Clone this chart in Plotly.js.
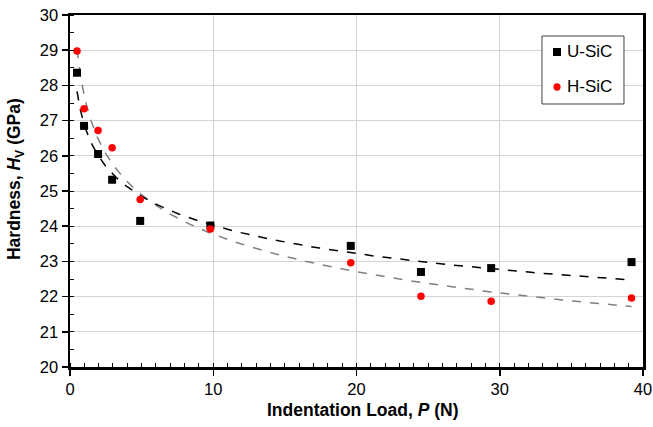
<!DOCTYPE html>
<html>
<head>
<meta charset="utf-8">
<script src="https://cdn.plot.ly/plotly-3.0.1.min.js"></script>
<style>html,body{margin:0;padding:0;background:#fff;}#chart{width:653px;height:427px;}</style>
</head>
<body>
<div id="chart"></div>
<script>
// Indentation load (N)
var loadU = [0.49, 0.98, 1.96, 2.94, 4.9, 9.8, 19.6, 24.5, 29.4, 39.2];
var hardU = [28.36, 26.85, 26.05, 25.32, 24.15, 24.02, 23.44, 22.70, 22.81, 22.98];
var loadH = [0.49, 0.98, 1.96, 2.94, 4.9, 9.8, 19.6, 24.5, 29.4, 39.2];
var hardH = [28.98, 27.34, 26.72, 26.23, 24.76, 23.92, 22.96, 22.01, 21.87, 21.96];
var seriesNames = ["U-SiC", "H-SiC"];
var xTitle = "<b>Indentation Load, <i>P</i> (N)</b>";
var yTitle = "<b>Hardness, <i>H</i><sub>V</sub> (GPa)</b>";

// Power-law trendline (least squares in log-log space), as in spreadsheet trendlines
function powerFit(xs, ys) {
  var n = xs.length, lx = xs.map(Math.log), ly = ys.map(Math.log);
  var mx = lx.reduce(function(a,b){return a+b;},0)/n;
  var my = ly.reduce(function(a,b){return a+b;},0)/n;
  var sxy = 0, sxx = 0;
  for (var i = 0; i < n; i++) { sxy += (lx[i]-mx)*(ly[i]-my); sxx += (lx[i]-mx)*(lx[i]-mx); }
  var b = sxy/sxx, a = Math.exp(my - b*mx);
  var x0 = Math.min.apply(null, xs), x1 = Math.max.apply(null, xs);
  var cx = [], cy = [];
  for (var k = 0; k <= 200; k++) {
    var x = x0 * Math.pow(x1/x0, k/200);
    cx.push(x); cy.push(a*Math.pow(x, b));
  }
  return {x: cx, y: cy};
}
var fitU = powerFit(loadU, hardU);
var fitH = powerFit(loadH, hardH);

var font = "Liberation Sans, Arial, sans-serif";
var traces = [
  {x: fitH.x, y: fitH.y, mode: "lines", line: {color: "#808080", width: 1.5, dash: "dash"}, showlegend: false, hoverinfo: "skip"},
  {x: fitU.x, y: fitU.y, mode: "lines", line: {color: "#000000", width: 1.5, dash: "dash"}, showlegend: false, hoverinfo: "skip"},
  {x: loadU, y: hardU, name: seriesNames[0], mode: "markers", showlegend: false,
   marker: {symbol: "square", size: 8, color: "#000000"}},
  {x: loadH, y: hardH, name: seriesNames[1], mode: "markers", showlegend: false,
   marker: {symbol: "circle", size: 7.5, color: "#ff0000"}}
];

// Legend box drawn in paper coordinates (Excel-style compact legend)
var shapes = [
  {type: "rect", xref: "paper", yref: "paper", x0: 0.8237, x1: 0.9668, y0: 0.7472, y1: 0.9403,
   line: {color: "#404040", width: 1}, fillcolor: "#ffffff", layer: "above"},
  {type: "rect", xref: "paper", yref: "paper", x0: 0.8429, x1: 0.8569, y0: 0.8835, y1: 0.9063,
   line: {width: 0}, fillcolor: "#000000", layer: "above"},
  {type: "circle", xref: "paper", yref: "paper", x0: 0.8437, x1: 0.8562, y0: 0.7850, y1: 0.8060,
   line: {width: 0}, fillcolor: "#ff0000", layer: "above"}
];

var layout = {
  width: 653, height: 427,
  margin: {l: 70, r: 10, t: 15, b: 60},
  paper_bgcolor: "#ffffff", plot_bgcolor: "#ffffff",
  font: {family: font, size: 16.5, color: "#000"},
  showlegend: false,
  xaxis: {
    range: [0, 40], dtick: 10, tick0: 0,
    showgrid: true, gridcolor: "#d4d4d4", gridwidth: 1,
    ticks: "outside", ticklen: 6, tickwidth: 1.5, tickcolor: "#000",
    minor: {dtick: 1, ticks: "inside", ticklen: 4, tickwidth: 1, tickcolor: "#000", showgrid: false},
    showline: true, linecolor: "#000", linewidth: 2.5, mirror: true,
    zeroline: false,
    tickfont: {family: font, size: 16.5, color: "#000"}
  },
  yaxis: {
    range: [20, 30], dtick: 1, tick0: 20,
    showgrid: true, gridcolor: "#d4d4d4", gridwidth: 1,
    ticks: "outside", ticklen: 6, tickwidth: 1.5, tickcolor: "#000",
    minor: {dtick: 0.5, ticks: "inside", ticklen: 4, tickwidth: 1, tickcolor: "#000", showgrid: false},
    showline: true, linecolor: "#000", linewidth: 2.5, mirror: true,
    zeroline: false,
    tickfont: {family: font, size: 16.5, color: "#000"}
  },
  shapes: shapes,
  annotations: [
    {text: xTitle, xref: "paper", yref: "paper", x: 0.512, y: -0.122,
     xanchor: "center", yanchor: "middle", showarrow: false,
     font: {family: font, size: 17.5, color: "#000"}},
    {text: yTitle, xref: "paper", yref: "paper", x: -0.096, y: 0.534,
     xanchor: "center", yanchor: "middle", showarrow: false, textangle: -90,
     font: {family: font, size: 17.5, color: "#000"}},
    {text: seriesNames[0], xref: "paper", yref: "paper", x: 0.8640, y: 0.8949,
     xanchor: "left", yanchor: "middle", showarrow: false,
     font: {family: font, size: 17, color: "#000"}},
    {text: seriesNames[1], xref: "paper", yref: "paper", x: 0.8640, y: 0.7955,
     xanchor: "left", yanchor: "middle", showarrow: false,
     font: {family: font, size: 17, color: "#000"}}
  ]
};

Plotly.newPlot("chart", traces, layout, {displayModeBar: false, staticPlot: true});
</script>
</body>
</html>
